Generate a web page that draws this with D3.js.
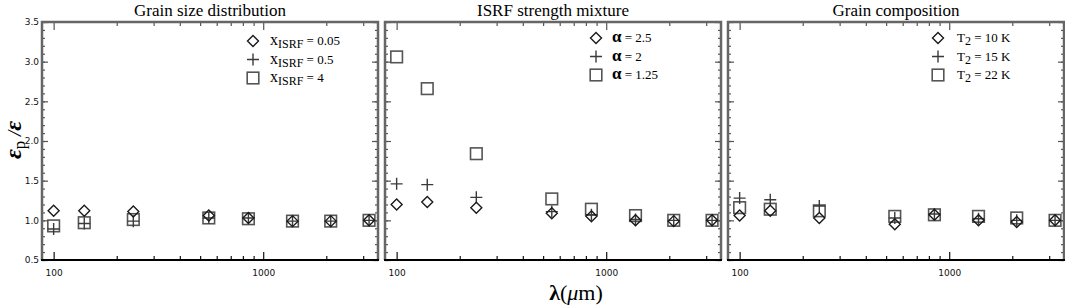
<!DOCTYPE html>
<html>
<head>
<meta charset="utf-8">
<script src="https://cdn.jsdelivr.net/npm/d3@7"></script>
<style>
  body { margin: 0; background: #fff; }
  svg { display: block; }
  .tick text { font-family: "DejaVu Sans", sans-serif; font-size: 9px; fill: #111; }
</style>
</head>
<body>
<div id="chart"></div>
<script>
// wavelengths (micron) shared by all panels
var wavelengths = [100, 140, 240, 550, 850, 1380, 2100, 3200]

var titles = ["Grain size distribution", "ISRF strength mixture", "Grain composition"]

// panel 1: grain size distribution
var sizeLow = [1.12, 1.12, 1.11, 1.06, 1.03, 0.99, 0.99, 1.00]
var sizeMid = [0.89, 0.96, 0.99, 1.03, 1.03, 0.99, 0.99, 1.00]
var sizeHigh = [0.93, 0.97, 1.01, 1.03, 1.02, 0.99, 0.99, 1.00]

// panel 2: ISRF strength mixture
var alphaA = [1.20, 1.23, 1.16, 1.09, 1.05, 1.00, 0.99, 1.00]
var alphaB = [1.46, 1.45, 1.29, 1.11, 1.07, 1.01, 1.00, 1.00]
var alphaC = [3.06, 2.66, 1.84, 1.27, 1.14, 1.06, 1.00, 1.00]

// panel 3: grain composition
var compA = [1.06, 1.12, 1.03, 0.95, 1.07, 1.00, 0.98, 1.00]
var compB = [1.28, 1.26, 1.18, 1.03, 1.08, 1.02, 1.00, 1.00]
var compC = [1.16, 1.14, 1.12, 1.05, 1.07, 1.05, 1.03, 1.00]

var legendLabels = [
	[["x", "ISRF", " = 0.05"], ["x", "ISRF", " = 0.5"], ["x", "ISRF", " = 4"]],
	[["\u03b1", "", "  = 2.5"], ["\u03b1", "", "  = 2"], ["\u03b1", "", "  = 1.25"]],
	[["T", "2", " = 10 K"], ["T", "2", " = 15 K"], ["T", "2", " = 22 K"]]
]

var yTicks = [0.5, 1.0, 1.5, 2.0, 2.5, 3.0, 3.5]
var xTicks = [100, 1000]

var panels = [
	[sizeLow, sizeMid, sizeHigh],
	[alphaA, alphaB, alphaC],
	[compA, compB, compC]
]

var chartWidth = 1065
var chartHeight = 306
var panelLeft = [42, 385, 728]
var panelW = 336
var plotTop = 22
var plotBottom = 260

var svg = d3.select('#chart').append('svg')
	.attr('width', chartWidth)
	.attr('height', chartHeight)
	.style('font-family', '"Liberation Serif", serif')

var y = d3.scaleLinear().domain([0.5, 3.5]).range([plotBottom, plotTop])

var minorX = [200, 300, 400, 500, 600, 700, 800, 900, 2000, 3000]
var minorY = d3.range(5, 36).map(function(d) { return d / 10 })

var markerColor = ["#1a1a1a", "#3a3a3a", "#555"]

function drawMarker(g, type, cx, cy) {
	if (type === 0) {
		var r = 5.5
		g.append('path')
			.attr('d', 'M' + cx + ',' + (cy - r) + 'L' + (cx + r) + ',' + cy + 'L' + cx + ',' + (cy + r) + 'L' + (cx - r) + ',' + cy + 'Z')
			.attr('fill', 'none').attr('stroke', markerColor[0]).attr('stroke-width', 1.4)
	} else if (type === 1) {
		var s = 6
		g.append('path')
			.attr('d', 'M' + (cx - s) + ',' + cy + 'H' + (cx + s) + 'M' + cx + ',' + (cy - s) + 'V' + (cy + s))
			.attr('fill', 'none').attr('stroke', markerColor[1]).attr('stroke-width', 1.4)
	} else {
		var h = 5.8
		g.append('rect')
			.attr('x', cx - h).attr('y', cy - h).attr('width', 2 * h).attr('height', 2 * h)
			.attr('fill', 'none').attr('stroke', markerColor[2]).attr('stroke-width', 1.6)
	}
}

panels.forEach(function(series, p) {
	var x0 = panelLeft[p]
	var x = d3.scaleLog().domain([88, 3530]).range([x0, x0 + panelW])
	var g = svg.append('g')

	// title
	g.append('text')
		.attr('x', x0 + panelW / 2).attr('y', 16)
		.attr('text-anchor', 'middle')
		.style('font-size', '17px')
		.text(titles[p])

	// minor / major ticks drawn inward (IDL style)
	var axB = d3.axisBottom(x).tickValues(xTicks).tickSize(-8).tickPadding(10).tickFormat(d3.format('d'))
	var axBm = d3.axisBottom(x).tickValues(minorX).tickSize(-4).tickFormat('')
	var axT = d3.axisTop(x).tickValues(xTicks).tickSize(-8).tickFormat('')
	var axTm = d3.axisTop(x).tickValues(minorX).tickSize(-4).tickFormat('')
	var axL = d3.axisLeft(y).tickValues(yTicks).tickSize(-6).tickPadding(3).tickFormat(p === 0 ? d3.format('.1f') : '')
	var axLm = d3.axisLeft(y).tickValues(minorY).tickSize(-3).tickFormat('')
	var axR = d3.axisRight(y).tickValues(yTicks).tickSize(-6).tickFormat('')
	var axRm = d3.axisRight(y).tickValues(minorY).tickSize(-3).tickFormat('')

	function put(ax, tx, ty, col) {
		var a = g.append('g').attr('transform', 'translate(' + tx + ',' + ty + ')').call(ax)
		a.select('.domain').remove()
		a.selectAll('.tick line').attr('stroke', col).attr('stroke-width', 1.2)
		return a
	}
	put(axTm, 0, plotTop, '#555'); put(axT, 0, plotTop, '#555')
	put(axLm, x0, 0, '#555'); put(axL, x0, 0, '#555')
	put(axRm, x0 + panelW, 0, '#555'); put(axR, x0 + panelW, 0, '#555')
	put(axBm, 0, plotBottom, '#111'); put(axB, 0, plotBottom, '#111')

	// frame: grey sides and top, black bottom
	g.append('path')
		.attr('d', 'M' + x0 + ',' + plotBottom + 'V' + plotTop + 'H' + (x0 + panelW) + 'V' + plotBottom)
		.attr('fill', 'none').attr('stroke', '#666').attr('stroke-width', 2.5)
	g.append('line')
		.attr('x1', x0 - 1).attr('x2', x0 + panelW + 1).attr('y1', plotBottom).attr('y2', plotBottom)
		.attr('stroke', '#000').attr('stroke-width', 1.8)

	// points: square first, then plus, then diamond
	var order = [2, 1, 0]
	order.forEach(function(k) {
		series[k].forEach(function(v, i) {
			drawMarker(g, k, x(wavelengths[i]), y(v))
		})
	})

	// legend
	var lx = [253, 596, 938][p]
	var tx = [270, 612, 957][p]
	legendLabels[p].forEach(function(lab, k) {
		var ly = 41 + k * 18.5 - (p === 0 ? 0 : 3)
		drawMarker(g, k, lx, ly)
		var t = g.append('text').attr('x', tx).attr('y', ly + 4).style('font-size', '13px')
		if (p === 1) {
			t.append('tspan').text(lab[0]).style('font-size', '17px').style('font-weight', 'bold')
		} else {
			t.append('tspan').text(lab[0]).style('font-size', p === 0 ? '16px' : '13px')
		}
		if (lab[1]) t.append('tspan').attr('dy', 3).style('font-size', '12px').text(lab[1])
		t.append('tspan').attr('dy', lab[1] ? -3 : 0).text(lab[2])
	})
})

// y-axis label
svg.append('text')
	.attr('transform', 'translate(21,140) rotate(-90)')
	.attr('text-anchor', 'middle')
	.style('font-size', '24px')
	.style('font-weight', 'bold')
	.style('font-style', 'italic')
	.call(function(t) {
		t.append('tspan').text('\u03b5')
		t.append('tspan').attr('dy', 4).style('font-size', '17px').style('font-style', 'normal').style('font-weight', 'normal').text('p')
		t.append('tspan').attr('dy', -4).style('font-size', '19px').style('font-weight', 'normal').text(' /')
		t.append('tspan').text('\u03b5')
	})

// x-axis label
svg.append('text')
	.attr('x', 576).attr('y', 300)
	.attr('text-anchor', 'middle')
	.style('font-size', '22px')
	.call(function(t) {
		t.append('tspan').text('\u03bb').style('font-weight', 'bold')
		t.append('tspan').text('(')
		t.append('tspan').text('\u03bc').style('font-style', 'italic')
		t.append('tspan').text('m)')
	})
</script>
</body>
</html>
